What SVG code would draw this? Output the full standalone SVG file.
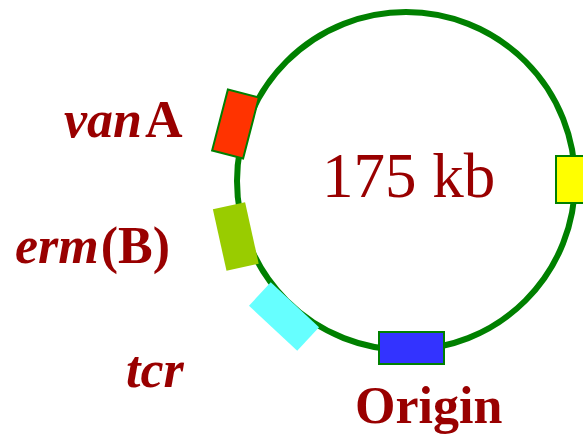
<svg xmlns="http://www.w3.org/2000/svg" width="583" height="437" viewBox="0 0 583 437">
  <style>
    .lbl { font-family: "Liberation Serif", "Times New Roman", serif; fill: #990000; font-weight: bold; font-size: 52px; }
    .it { font-style: italic; }
    .ring { fill: none; stroke: #008000; stroke-width: 6; }
    .edge { stroke: #008000; stroke-width: 2; }
  </style>
  <rect width="583" height="437" fill="#ffffff"/>

  <!-- plasmid backbone -->
  <g id="connectors">
    <circle class="ring" cx="406" cy="181" r="169"/>
  </g>

  <g id="size">
    <text x="322" y="197" font-family="Liberation Serif, Times New Roman, serif" font-size="63" fill="#990000">175 kb</text>
  </g>

  <g id="vanA">
    <rect class="edge" x="-16" y="-31.5" width="32" height="63" fill="#ff3300" transform="translate(235.5,124) rotate(14.5)"/>
    <text class="lbl" x="64" y="137"><tspan class="it">van</tspan><tspan dx="3">A</tspan></text>
  </g>

  <g id="ermB">
    <rect x="-16.5" y="-31.5" width="33" height="63" fill="#99cc00" transform="translate(235.8,236.5) rotate(-12.5)"/>
    <text class="lbl" x="15" y="263"><tspan class="it">erm</tspan><tspan dx="2">(B)</tspan></text>
  </g>

  <g id="tcr">
    <rect x="-33" y="-16" width="66" height="32" fill="#66ffff" transform="translate(284,316.5) rotate(43)"/>
    <text class="lbl it" x="126" y="387">tcr</text>
  </g>

  <g id="origin">
    <rect class="edge" x="379" y="332" width="65" height="32" fill="#3333ff"/>
    <text class="lbl" x="355" y="423">Origin</text>
  </g>

  <g id="marker-right">
    <rect class="edge" x="556" y="156" width="40" height="47" fill="#ffff00"/>
  </g>
</svg>
